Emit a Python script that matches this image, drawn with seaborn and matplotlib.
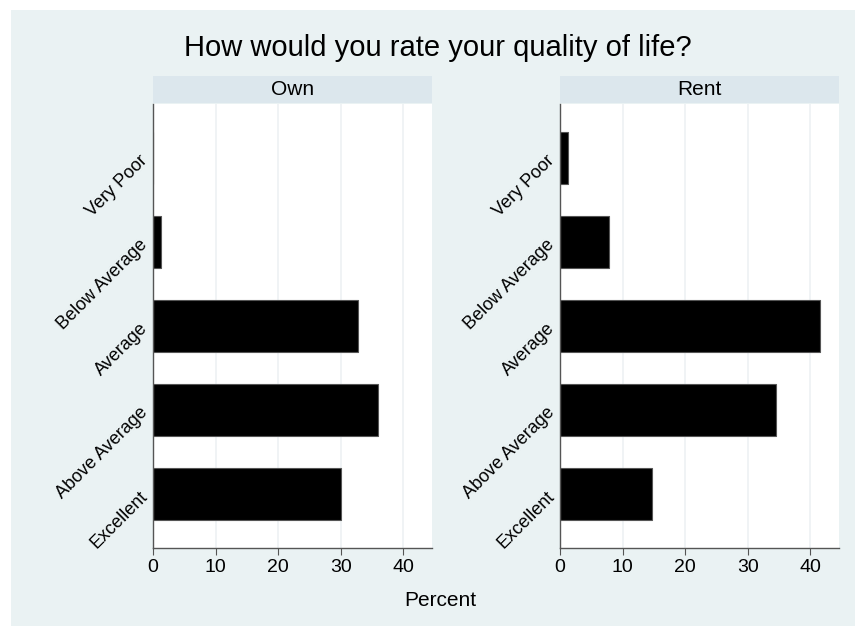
import pandas as pd
import seaborn as sns
import matplotlib.pyplot as plt
from matplotlib.patches import Rectangle

categories = ["Very Poor", "Below Average", "Average", "Above Average", "Excellent"]
own_pct = [0.0, 1.3, 32.7, 36.0, 30.0]
rent_pct = [1.2, 7.8, 41.5, 34.6, 14.7]
panels = ["Own", "Rent"]
xticks = [0, 10, 20, 30, 40]

df = pd.DataFrame({
    "tenure": ["Own"] * 5 + ["Rent"] * 5,
    "rating": categories * 2,
    "percent": own_pct + rent_pct,
})

sns.set_theme(style="white")
plt.rcParams["font.family"] = ["Liberation Sans", "DejaVu Sans"]
plt.rcParams["text.color"] = "black"
plt.rcParams["xtick.color"] = "black"
plt.rcParams["ytick.color"] = "black"

bg = "#eaf2f3"
strip = "#dce7ed"

fig = plt.figure(figsize=(8.55, 6.26), dpi=100)
fig.patch.set_facecolor("white")
fig.patches.append(Rectangle((11 / 855, 0.0), 1 - 11 / 855, 1 - 10 / 626,
                             transform=fig.transFigure, facecolor=bg,
                             edgecolor="none", zorder=-10))

lefts = [153 / 855, 560 / 855]
w = 279 / 855
bottom = (626 - 548) / 626
h = 444 / 626

for left, name in zip(lefts, panels):
    ax = fig.add_axes([left, bottom, w, h])
    ax.set_facecolor("white")
    sub = df[df["tenure"] == name]
    sns.barplot(data=sub, x="percent", y="rating", order=categories,
                color="black", edgecolor="#555555", linewidth=0.8,
                width=0.62, orient="h", ax=ax)
    ax.set_xlim(0, 44.6)
    ax.set_ylim(4.64, -0.64)
    ax.set_xticks(xticks)
    ax.xaxis.grid(True, color="#eef1f3", linewidth=1.2)
    ax.set_axisbelow(True)
    ax.set_xlabel("")
    ax.set_ylabel("")
    ax.tick_params(axis="x", bottom=True, length=5, width=0.8, color="#555555",
                   labelsize=14, pad=3)
    ax.tick_params(axis="y", left=False, labelsize=13, pad=0)
    for lab in ax.get_yticklabels():
        lab.set_rotation(45)
        lab.set_ha("right")
        lab.set_va("center")
        lab.set_rotation_mode("anchor")
    for s in ["top", "right"]:
        ax.spines[s].set_visible(False)
    for s in ["left", "bottom"]:
        ax.spines[s].set_color("#555555")
        ax.spines[s].set_linewidth(1.0)

    sax = fig.add_axes([left, (626 - 103) / 626, w, 27 / 626])
    sax.set_facecolor(strip)
    sax.set_xticks([])
    sax.set_yticks([])
    for s in sax.spines.values():
        s.set_visible(False)
    sax.text(0.5, 0.5, name, ha="center", va="center", fontsize=15,
             transform=sax.transAxes)

fig.text(438 / 855, 1 - 48 / 626, "How would you rate your quality of life?",
         ha="center", va="center", fontsize=21)
fig.text(440 / 855, 1 - 600 / 626, "Percent", ha="center", va="center",
         fontsize=15)

fig.savefig("out.png", dpi=100, facecolor=fig.get_facecolor())
